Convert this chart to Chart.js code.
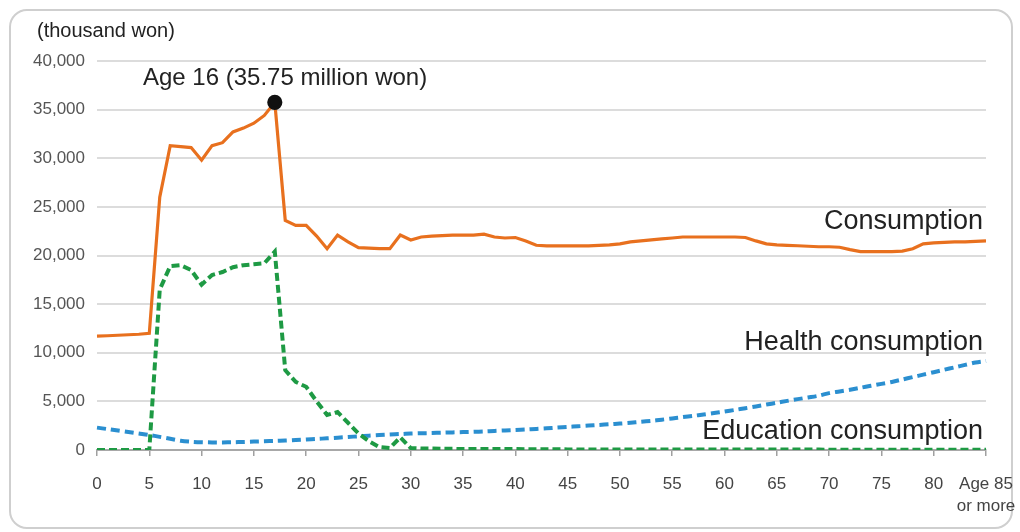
<!DOCTYPE html>
<html>
<head>
<meta charset="utf-8">
<script src="https://cdn.jsdelivr.net/npm/chart.js@4.4.1/dist/chart.umd.min.js"></script>
<style>
  html, body { margin: 0; padding: 0; background: #fff; }
  .wrap { position: relative; width: 1020px; height: 532px; }
  .box { position: absolute; left: 9px; top: 9px; width: 1000px; height: 516px;
         border: 2px solid #cfcfcf; border-radius: 18px; }
  canvas { position: absolute; left: 0; top: 0; }
</style>
</head>
<body>
<div class="wrap">
  <div class="box"></div>
  <canvas id="myChart" width="1020" height="532"></canvas>
</div>
<script>
// ages 0 .. 85 (85 = "Age 85 or more")
let ages = [];
for (let a = 0; a <= 85; a++) ages.push(a);

// thousand won
let consumption = [
  11700, 11750, 11800, 11850, 11900, 12000, 26000, 31300, 31200, 31100,
  29800, 31300, 31600, 32700, 33100, 33600, 34400, 35750, 23600, 23100,
  23100, 22000, 20700, 22100, 21400, 20800, 20750, 20700, 20700, 22100,
  21600, 21900, 22000, 22050, 22100, 22100, 22100, 22200, 21900, 21800,
  21850, 21500, 21050, 21000, 21000, 21000, 21000, 21000, 21050, 21100,
  21200, 21400, 21500, 21600, 21700, 21800, 21900, 21900, 21900, 21900,
  21900, 21900, 21850, 21500, 21200, 21100, 21050, 21000, 20950, 20900,
  20900, 20850, 20600, 20400, 20400, 20400, 20400, 20450, 20700, 21200,
  21300, 21350, 21400, 21400, 21450, 21500
];

let education = [
  0, 0, 0, 0, 0, 0, 16500, 18900, 19000, 18500,
  17000, 18000, 18300, 18800, 19000, 19100, 19200, 20400, 8200, 7000,
  6500, 5000, 3600, 3900, 2800, 1700, 900, 300, 200, 1300,
  200, 150, 150, 120, 120, 100, 100, 100, 100, 100,
  100, 80, 80, 80, 80, 60, 60, 60, 60, 60,
  50, 50, 50, 50, 50, 50, 50, 50, 50, 50,
  40, 40, 40, 40, 40, 40, 40, 40, 40, 40,
  30, 30, 30, 30, 30, 30, 30, 30, 30, 30,
  30, 30, 30, 30, 30, 30
];

let health = [
  2300, 2150, 2000, 1850, 1700, 1550, 1350, 1150, 950, 850,
  800, 780, 780, 800, 830, 870, 900, 930, 970, 1020,
  1080, 1140, 1200, 1270, 1340, 1410, 1470, 1530, 1590, 1640,
  1690, 1720, 1750, 1780, 1810, 1840, 1870, 1910, 1960, 2010,
  2060, 2110, 2170, 2230, 2300, 2370, 2440, 2510, 2580, 2650,
  2720, 2800, 2900, 3000, 3120, 3250, 3380, 3510, 3650, 3800,
  3950, 4120, 4300, 4480, 4670, 4860, 5050, 5230, 5400, 5580,
  5850, 6020, 6200, 6400, 6600, 6800, 7000, 7250, 7500, 7750,
  8000, 8250, 8500, 8750, 9000, 9150
];

let y_ticks = [0, 5000, 10000, 15000, 20000, 25000, 30000, 35000, 40000];
let peak_index = 17;
let peak_text = "Age 16 (35.75 million won)";
let unit_text = "(thousand won)";
let last_label = ["Age 85", "or more"];

// text drawn on top of the chart
let labels_plugin = {
  id: "labels_plugin",
  afterDraw(chart) {
    let ctx = chart.ctx;
    ctx.save();
    ctx.fillStyle = "#222";
    ctx.textBaseline = "middle";

    ctx.font = "20px 'Liberation Sans'";
    ctx.textAlign = "left";
    ctx.fillText(unit_text, 37, 31);

    ctx.font = "24px 'Liberation Sans'";
    ctx.fillText(peak_text, 143, 78);

    ctx.font = "27px 'Liberation Sans'";
    ctx.textAlign = "right";
    ctx.fillText("Consumption", 983, 222);
    ctx.fillText("Health consumption", 983, 343);
    ctx.fillText("Education consumption", 983, 432);
    ctx.restore();
  }
};

new Chart("myChart", {
  type: "line",
  data: {
    labels: ages,
    datasets: [
      {
        label: "Consumption",
        data: consumption,
        borderColor: "#e8701e",
        borderWidth: 3.2,
        tension: 0,
        pointRadius: (c) => (c.dataIndex === peak_index ? 6 : 0),
        pointBackgroundColor: "#111",
        pointBorderColor: "#111",
        pointHoverRadius: 0
      },
      {
        label: "Education consumption",
        data: education,
        borderColor: "#1e9a44",
        borderWidth: 4,
        borderDash: [8, 4],
        tension: 0,
        pointRadius: 0
      },
      {
        label: "Health consumption",
        data: health,
        borderColor: "#2b8fd0",
        borderWidth: 4,
        borderDash: [9, 5],
        tension: 0.3,
        pointRadius: 0
      }
    ]
  },
  options: {
    responsive: false,
    animation: false,
    events: [],
    layout: { padding: { top: 61, right: 34, left: 0, bottom: 4 } },
    plugins: { legend: { display: false }, tooltip: { enabled: false } },
    scales: {
      x: {
        type: "category",
        offset: false,
        grid: {
          drawOnChartArea: false,
          tickLength: 6,
          color: (c) => (c.index % 5 === 0 ? "#a0a0a0" : "rgba(0,0,0,0)"),
          lineWidth: 1.5
        },
        border: { display: true, color: "#a8a8a8", width: 2 },
        ticks: {
          autoSkip: false,
          maxRotation: 0,
          padding: 17,
          color: "#444",
          font: { family: "'Liberation Sans'", size: 17, lineHeight: 1.3 },
          callback: function (v, i) {
            if (i === 85) return last_label;
            return i % 5 === 0 ? String(ages[i]) : "";
          }
        },
        afterFit: (s) => {
          s.height = 78;
          s.paddingLeft = 0;
          s.paddingRight = 0;
        }
      },
      y: {
        min: 0,
        max: 40000,
        afterBuildTicks: (s) => { s.ticks = y_ticks.map((v) => ({ value: v })); },
        grid: { color: "#dcdcdc", lineWidth: 2, drawTicks: false },
        border: { display: false },
        ticks: {
          padding: 12,
          color: "#555",
          font: { family: "'Liberation Sans'", size: 17 },
          callback: (v) => v.toLocaleString("en-US")
        },
        afterFit: (s) => { s.width = 97; }
      }
    }
  },
  plugins: [labels_plugin]
});
</script>
</body>
</html>
